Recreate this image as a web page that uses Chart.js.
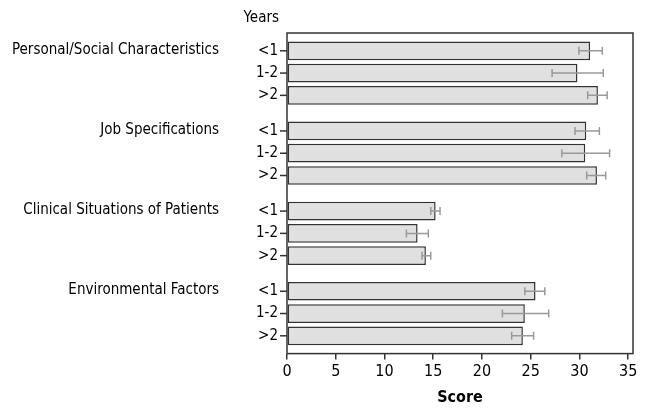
<!DOCTYPE html>
<html>
<head>
<meta charset="utf-8">
<script src="https://cdn.jsdelivr.net/npm/chart.js@4"></script>
<style>
  html,body{margin:0;padding:0;background:#fff;}
  #wrap{width:645px;height:408px;}
</style>
</head>
<body>
<div id="wrap"><canvas id="chart" width="645" height="408"></canvas></div>
<script>
// === данные ===
const groups=['Personal/Social Characteristics','Job Specifications','Clinical Situations of Patients','Environmental Factors'];
const years=['<1','1-2','>2'];
// среднее по стажу (одна строка на стаж, по группам)
const meanLt1=[31.1,30.7,15.25,25.5];
const mean1to2=[29.8,30.6,13.4,24.4];
const meanGt2=[31.9,31.8,14.25,24.2];
// границы погрешности
const lowLt1=[29.95,29.55,14.75,24.4];
const highLt1=[32.35,32.05,15.7,26.45];
const low1to2=[27.2,28.2,12.25,22.1];
const high1to2=[32.45,33.1,14.5,26.85];
const lowGt2=[30.85,30.75,13.85,23.05];
const highGt2=[32.85,32.7,14.75,25.3];
const xTicks=[0,5,10,15,20,25,30,35];

const means=[meanLt1,mean1to2,meanGt2];
const lows=[lowLt1,low1to2,lowGt2];
const highs=[highLt1,high1to2,highGt2];

const FONT='"DejaVu Sans Condensed","DejaVu Sans",sans-serif';

// === рамка, усы, подписи ===
const decor={
  id:'decor',
  afterDatasetsDraw(chart){
    const ctx=chart.ctx,a=chart.chartArea,xs=chart.scales.x;
    ctx.save();
    // усы
    ctx.strokeStyle='#999';ctx.lineWidth=1.5;
    chart.data.datasets.forEach((ds,di)=>{
      chart.getDatasetMeta(di).data.forEach((el,i)=>{
        const x1=xs.getPixelForValue(lows[di][i]),x2=xs.getPixelForValue(highs[di][i]);
        const y=el.y,h=4;
        ctx.beginPath();
        ctx.moveTo(x1,y);ctx.lineTo(x2,y);
        ctx.moveTo(x1,y-h);ctx.lineTo(x1,y+h);
        ctx.moveTo(x2,y-h);ctx.lineTo(x2,y+h);
        ctx.stroke();
      });
    });
    // рамка
    ctx.strokeStyle='#333';ctx.lineWidth=1.5;
    ctx.strokeRect(a.left,a.top,a.right-a.left,a.bottom-a.top);
    // засечки и подписи стажа
    ctx.fillStyle='#000';ctx.textBaseline='middle';
    ctx.font='15px '+FONT;ctx.textAlign='right';
    chart.data.datasets.forEach((ds,di)=>{
      chart.getDatasetMeta(di).data.forEach((el,i)=>{
        ctx.beginPath();ctx.moveTo(a.left-7,el.y);ctx.lineTo(a.left,el.y);ctx.stroke();
        ctx.fillText(years[di],a.left-9,el.y);
        if(di===0)ctx.fillText(groups[i],219,el.y-1);
      });
    });
    ctx.fillText('Years',279,a.top-15);
    ctx.restore();
  }
};

new Chart(document.getElementById('chart'),{
  type:'bar',
  data:{
    labels:groups,
    datasets:years.map((y,di)=>({
      label:y,
      data:means[di],
      backgroundColor:'#e0e0e0',
      borderColor:'#333',
      borderWidth:1.5,
      borderSkipped:false,
      categoryPercentage:0.834,
      barPercentage:0.84
    }))
  },
  options:{
    indexAxis:'y',
    responsive:false,
    animation:false,
    layout:{padding:{left:287,right:12,top:33,bottom:1}},
    plugins:{legend:{display:false},tooltip:{enabled:false}},
    scales:{
      y:{display:false},
      x:{
        min:0,max:35.5,
        afterBuildTicks(s){s.ticks=xTicks.map(v=>({value:v}));},
        grid:{drawOnChartArea:false,tickLength:6,color:'#333',lineWidth:1.5},
        border:{display:false},
        ticks:{color:'#000',font:{family:FONT,size:16},padding:3},
        title:{display:true,text:'Score',color:'#000',font:{family:FONT,size:16,weight:'bold'},padding:{top:3,bottom:0}}
      }
    }
  },
  plugins:[decor]
});
</script>
</body>
</html>
